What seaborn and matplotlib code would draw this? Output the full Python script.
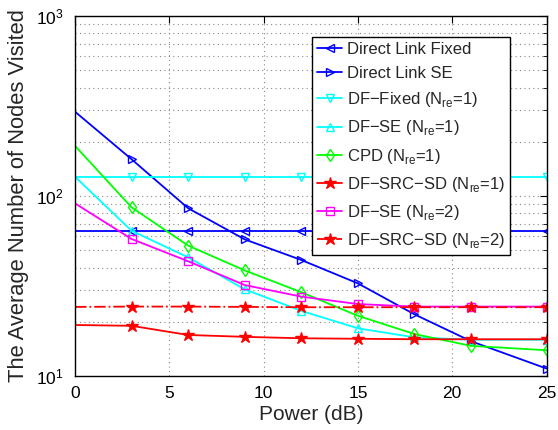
import numpy as np
import pandas as pd
import seaborn as sns
import matplotlib
matplotlib.use("Agg")
import matplotlib.pyplot as plt

# Power axis (dB) and average number of visited nodes
power = [0, 3, 6, 9, 12, 15, 18, 21, 25]

direct_fixed = [64, 64, 64, 64, 64, 64, 64, 64, 64]
direct_se = [294, 160, 85.5, 57.4, 44.1, 32.7, 22.0, 15.6, 11.0]
df_fixed_1 = [128, 128, 128, 128, 128, 128, 128, 128, 128]
df_se_1 = [128, 64.1, 45.6, 30.3, 23.0, 18.4, 16.4, 15.9, 15.9]
cpd_1 = [190, 86.5, 53.0, 38.6, 29.2, 21.6, 17.1, 14.7, 13.9]
df_src_sd_1 = [19.2, 19.0, 16.9, 16.5, 16.2, 16.1, 16.0, 16.0, 16.0]
df_se_2 = [91, 57.7, 43.4, 32.0, 27.6, 25.1, 24.3, 24.3, 24.3]
df_src_sd_2 = [24.2, 24.3, 24.3, 24.2, 24.1, 24.1, 24.1, 24.1, 24.1]

M = "\u2212"
labels = [
    "Direct Link Fixed",
    "Direct Link SE",
    f"DF{M}Fixed (N$_{{\\rm re}}$=1)",
    f"DF{M}SE (N$_{{\\rm re}}$=1)",
    "CPD (N$_{\\rm re}$=1)",
    f"DF{M}SRC{M}SD (N$_{{\\rm re}}$=1)",
    f"DF{M}SE (N$_{{\\rm re}}$=2)",
    f"DF{M}SRC{M}SD (N$_{{\\rm re}}$=2)",
]
series = [direct_fixed, direct_se, df_fixed_1, df_se_1, cpd_1,
          df_src_sd_1, df_se_2, df_src_sd_2]
colors = ["#0000ff", "#0000ff", "#00ffff", "#00ffff", "#00ff00",
          "#ff0000", "#ff00ff", "#ff0000"]
markers = ["<", ">", "v", "^", "d", "*", "s", "*"]
styles = ["-", "-", "-", "-", "-", "-", "-", "-."]

sns.set_style("white")
plt.rcParams["font.family"] = ["Liberation Sans", "DejaVu Sans"]
plt.rcParams["mathtext.fontset"] = "custom"
plt.rcParams["mathtext.rm"] = "Liberation Sans"

fig = plt.figure(figsize=(5.58, 4.30), dpi=100)
ax = fig.add_axes([0.1344, 0.1256, 0.8450, 0.8372])

for y, lab, c, m, ls in zip(series, labels, colors, markers, styles):
    df = pd.DataFrame({"power": power, "nodes": y})
    filled = m == "*"
    sns.lineplot(data=df, x="power", y="nodes", ax=ax, color=c, linestyle=ls,
                 linewidth=1.3, marker=m, markersize=9 if filled else 6,
                 markerfacecolor=c if filled else "none", markeredgecolor=c,
                 markeredgewidth=1.0, markevery=list(range(1, len(power))),
                 label=lab)

ax.set_yscale("log")
ax.set_xlim(0, 25)
ax.set_ylim(10, 1000)
ax.set_xticks([0, 5, 10, 15, 20, 25])
ax.set_yticks([10, 100, 1000])
ax.grid(True, which="both", color="#888888", linestyle=(0, (1, 3)), linewidth=0.8)
ax.tick_params(which="both", direction="in", top=True, right=True, labelsize=12.5,
               colors="black")
ax.tick_params(which="major", length=5)
ax.tick_params(which="minor", length=3)
ax.tick_params(axis="x", pad=7)
ax.tick_params(axis="y", pad=8)
for s in ax.spines.values():
    s.set_color("black")
    s.set_linewidth(1.0)

ax.set_xlabel("Power (dB)", fontsize=15, labelpad=3)
ax.set_ylabel("The Average Number of Nodes Visited", fontsize=15.8, labelpad=5)

leg = ax.legend(loc="upper right", bbox_to_anchor=(0.9226, 0.9417),
                borderaxespad=0, fontsize=12, frameon=True, fancybox=False,
                edgecolor="black", framealpha=1, handlelength=1.5,
                labelspacing=0.55, borderpad=0.3, handletextpad=0.25)
leg.get_frame().set_linewidth(1.0)

fig.savefig("out.png", dpi=100)
